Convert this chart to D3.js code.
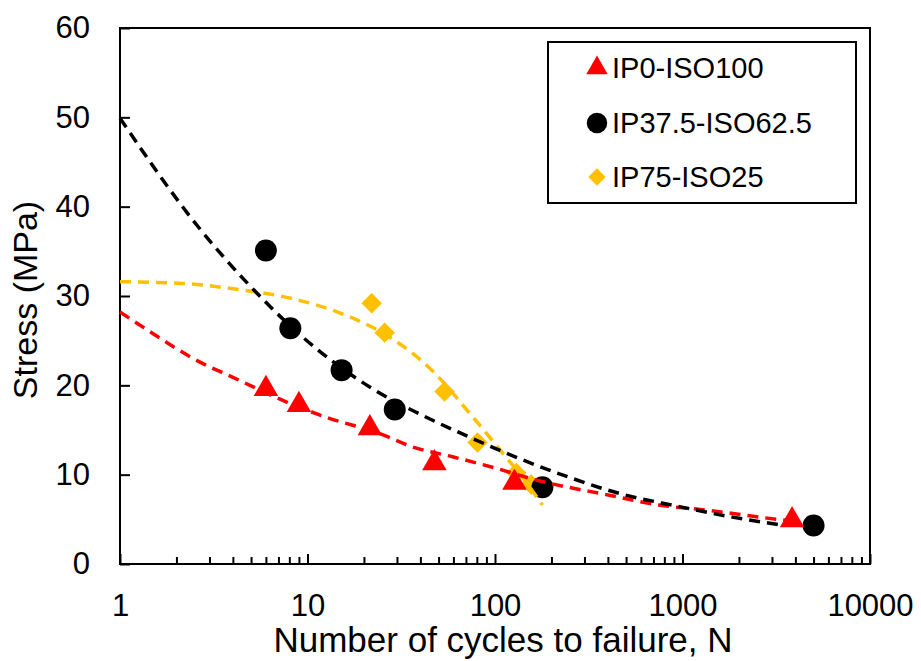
<!DOCTYPE html>
<html>
<head>
<meta charset="utf-8">
<script src="https://cdn.jsdelivr.net/npm/d3@7"></script>
<style>
  body { margin: 0; background: #fff; }
  text { font-family: Arial, "Liberation Sans", sans-serif; fill: #000; }
</style>
</head>
<body>
<div id="chart"></div>
<script>
// data
var ip0N = [6, 9, 21.5, 47.5, 127, 3840];
var ip0S = [19.6, 17.8, 15.2, 11.3, 9.1, 4.9];
var ip37N = [6, 8.1, 15.2, 29.2, 179, 5000];
var ip37S = [35.1, 26.4, 21.7, 17.3, 8.6, 4.3];
var ip75N = [22, 25.8, 53.8, 80.7, 130, 156];
var ip75S = [29.2, 25.9, 19.3, 13.6, 10.2, 8.9];

// dashed trend lines
var trend0N = [1, 1.33, 2.67, 4, 8, 12.7, 24.3, 36.4, 59.4, 102, 166, 407, 751, 1387, 2564, 3845];
var trend0S = [28.2, 26.5, 22.6, 20.9, 18.0, 16.4, 14.6, 13.1, 12.0, 10.7, 9.4, 7.7, 6.6, 6.0, 5.25, 4.8];
var trend37N = [1, 2.67, 4.75, 9.43, 22.3, 39.6, 73.2, 135, 249, 460, 926, 1841, 3400];
var trend37S = [49.9, 37.5, 31.5, 25.4, 19.6, 16.8, 14.2, 11.8, 9.7, 7.9, 6.5, 5.25, 4.36];
var trend75N = [1, 2.17, 4.36, 8.35, 16.2, 27.4, 46.5, 73.1, 110, 140, 179];
var trend75S = [31.6, 31.4, 30.7, 29.7, 27.8, 25.4, 21.6, 16.9, 12.4, 9.7, 6.6];

var xMajor = [1, 10, 100, 1000, 10000];
var yTicks = [0, 10, 20, 30, 40, 50, 60];
var seriesNames = ["IP0-ISO100", "IP37.5-ISO62.5", "IP75-ISO25"];
var colors = ["#ff0000", "#000000", "#ffc000"];

var W = 921, H = 661;
var margin = {left: 120, right: 870, top: 28, bottom: 564};

var svg = d3.select("#chart").append("svg")
    .attr("width", W)
    .attr("height", H);

var x = d3.scaleLog().domain([1, 10000]).range([margin.left, margin.right]);
var y = d3.scaleLinear().domain([0, 60]).range([margin.bottom, margin.top]);

// minor ticks 2..9 in each decade
var xMinor = [];
for (var d = 1; d < 10000; d *= 10) {
  for (var k = 2; k <= 9; k++) xMinor.push(d * k);
}

svg.append("g")
    .attr("transform", "translate(0," + margin.bottom + ")")
    .call(d3.axisBottom(x).tickValues(xMinor).tickSize(-7).tickFormat(""))
    .call(g => g.select(".domain").remove())
    .call(g => g.selectAll("line").attr("stroke", "#000").attr("stroke-width", 2));

svg.append("g")
    .attr("transform", "translate(0," + margin.bottom + ")")
    .call(d3.axisBottom(x).tickValues(xMajor).tickSize(-10).tickPadding(30).tickFormat(d3.format("d")))
    .call(g => g.select(".domain").remove())
    .call(g => g.selectAll("line").attr("stroke", "#000").attr("stroke-width", 2))
    .call(g => g.selectAll("text").style("font-size", "31px").attr("font-family", null));

svg.append("g")
    .attr("transform", "translate(" + margin.left + ",0)")
    .call(d3.axisLeft(y).tickValues(yTicks).tickSize(-10).tickPadding(30))
    .call(g => g.select(".domain").remove())
    .call(g => g.selectAll("line").attr("stroke", "#000").attr("stroke-width", 2))
    .call(g => g.selectAll("text").style("font-size", "31px").attr("font-family", null));

// frame
svg.append("rect")
    .attr("x", margin.left).attr("y", margin.top)
    .attr("width", margin.right - margin.left).attr("height", margin.bottom - margin.top)
    .attr("fill", "none").attr("stroke", "#000").attr("stroke-width", 2);

// axis titles
svg.append("text")
    .attr("x", 503)
    .attr("y", 652)
    .attr("text-anchor", "middle")
    .style("font-size", "35px")
    .text("Number of cycles to failure, N");

svg.append("text")
    .attr("transform", "translate(37,300) rotate(-90)")
    .attr("text-anchor", "middle")
    .style("font-size", "34px")
    .text("Stress (MPa)");

// markers
var shapes = [d3.symbolTriangle, d3.symbolCircle, d3.symbolDiamond];
var sizes = [260, 380, 230];
var pts = [
  d3.zip(ip0N, ip0S),
  d3.zip(ip37N, ip37S),
  d3.zip(ip75N, ip75S)
];

var plot = svg.append("g");
[2, 1, 0].forEach(function (i) {
  var sym = i === 2 ? d3.symbol().type(d3.symbolSquare).size(210) : d3.symbol().type(shapes[i]).size(sizes[i]);
  plot.selectAll(".m" + i)
    .data(pts[i])
    .enter()
    .append("path")
      .attr("class", "m" + i)
      .attr("d", sym)
      .attr("transform", function (p) {
        return "translate(" + x(p[0]) + "," + y(p[1]) + ")" + (i === 2 ? " rotate(45)" : "");
      })
      .attr("fill", colors[i]);
});

// trend lines on top
var line = d3.line()
    .x(function (p) { return x(p[0]); })
    .y(function (p) { return y(p[1]); })
    .curve(d3.curveMonotoneX);

var trends = [
  d3.zip(trend0N, trend0S),
  d3.zip(trend37N, trend37S),
  d3.zip(trend75N, trend75S)
];

[2, 0, 1].forEach(function (i) {
  svg.append("path")
    .datum(trends[i])
    .attr("d", line)
    .attr("fill", "none")
    .attr("stroke", colors[i])
    .attr("stroke-width", 3.5)
    .attr("stroke-dasharray", "11,7");
});

// legend
var lg = svg.append("g");
lg.append("rect")
    .attr("x", 548).attr("y", 42)
    .attr("width", 308).attr("height", 161)
    .attr("fill", "#fff").attr("stroke", "#000").attr("stroke-width", 2);

var rowY = [68, 123, 177];
seriesNames.forEach(function (name, i) {
  var sym = i === 2 ? d3.symbol().type(d3.symbolSquare).size(150) : d3.symbol().type(shapes[i]).size(i === 0 ? 200 : 330);
  lg.append("path")
    .attr("d", sym)
    .attr("transform", "translate(597," + rowY[i] + ")" + (i === 2 ? " rotate(45)" : ""))
    .attr("fill", colors[i]);
  lg.append("text")
    .attr("x", 612)
    .attr("y", rowY[i])
    .attr("dy", "0.36em")
    .style("font-size", "29px")
    .text(name);
});
</script>
</body>
</html>
